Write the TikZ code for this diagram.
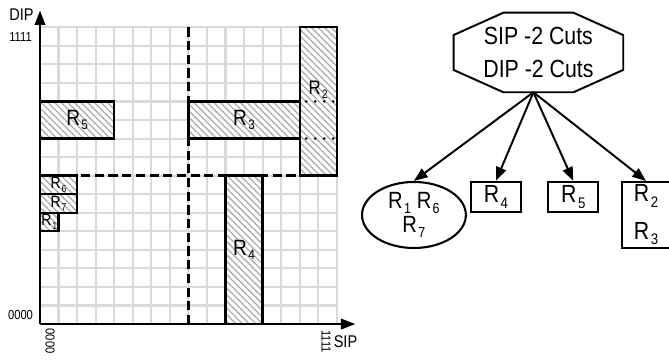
\documentclass[tikz,border=0pt]{standalone}
\usepackage{fontspec}
\setmainfont{Liberation Sans}[FakeStretch=0.86]
\usetikzlibrary{arrows.meta, shapes.geometric, positioning, calc, patterns.meta}
\definecolor{gridgray}{RGB}{218,218,218}
\definecolor{hatchgray}{RGB}{172,172,172}
\newcommand{\fsz}[1]{\fontsize{#1}{#1}\selectfont}
\newcommand{\rsub}[1]{R\kern0.06em\raisebox{-0.4ex}{\scalebox{0.62}{#1}}}
\tikzset{
  regbox/.style={line width=1.8pt, preaction={fill=white},
    pattern={Lines[angle=-45,distance=3.6pt,line width=1pt]}, pattern color=hatchgray},
  cutline/.style={line width=1.8pt, dash pattern=on 7pt off 3.5pt},
  dotrow/.style={line width=2.2pt, line cap=round, dash pattern=on 0pt off 6.9pt},
  axisline/.style={line width=1.6pt, -{Triangle[length=11pt,width=8pt]}},
  leafbox/.style={draw, line width=1.7pt, inner sep=0pt, minimum width=1.35cm, minimum height=0.81cm,
    font=\fsz{19}},
  fan/.style={line width=1.5pt, -{Triangle[length=10.5pt,width=8pt]}}
}

\begin{document}
\begin{tikzpicture}[x=0.5cm,y=0.5cm]
  \useasboundingbox (-2.156,-1.94) rectangle (33.91,17.47);
  % grid and cuts
  \draw[gridgray, line width=1.6pt, step=0.5cm] (0,0) grid (16,16);
  \draw[cutline] (8,0) -- (8,16);
  \draw[cutline] (0,8) -- (16,8);
  % rules
  \draw[regbox] (0,10) rectangle (4,12);
  \draw[regbox] (8,10) rectangle (14,12);
  \draw[regbox] (14,8) rectangle (16,16);
  \draw[regbox] (10,0) rectangle (12,8);
  \draw[regbox] (0,7) rectangle (2,8);
  \draw[regbox] (0,6) rectangle (2,7);
  \draw[regbox] (0,5) rectangle (1,6);
  \draw[dotrow] (14.35,12) -- (15.9,12);
  \draw[dotrow] (14.35,10) -- (15.9,10);
  \node[font=\fsz{17}] (g5) at (2,11) {\rsub{5}};
  \node[font=\fsz{17}] (g3) at (11,11) {\rsub{3}};
  \node[font=\fsz{17}] (g4) at (11,4) {\rsub{4}};
  \node[font=\fsz{15}, inner sep=1pt, above] (g2) at (15,12.05) {\rsub{2}};
  \node[font=\fsz{12.5}, inner sep=0pt] (g6) at (1,7.5) {\rsub{6}};
  \node[font=\fsz{12.5}, inner sep=0pt] (g7) at (1,6.5) {\rsub{7}};
  \node[font=\fsz{12.5}, inner sep=0pt] (g1) at (0.5,5.5) {\rsub{1}};
  % axes
  \draw[axisline] (0,0) -- (0,16.9);
  \draw[axisline] (0,0) -- (17,0);
  \node[font=\fsz{13}] (dip) at (-1,16.68) {DIP};
  \node[font=\fsz{13}] (sip) at (16.47,-0.97) {SIP};
  \node[font=\fsz{10}] (dhi) at (-1.05,15.5) {1111};
  \node[font=\fsz{10}] (dlo) at (-1.05,0.5) {0000};
  \node[font=\fsz{10}, rotate=-90] (slo) at (0.54,-0.92) {0000};
  \node[font=\fsz{10}, rotate=-90] (shi) at (15.42,-0.94) {1111};

  % decision tree
  \node[inner sep=0pt, minimum width=4.56cm, minimum height=2.13cm, align=center,
    font=\fontsize{19}{26}\selectfont] (root) at (26.87,14.64) {SIP -2 Cuts\\DIP -2 Cuts};
  \draw[line width=1.5pt] ($(root.north)+(-1.89,0)$) -- ($(root.north)+(1.89,0)$)
    -- ($(root.east)+(0,0.94)$) -- ($(root.east)+(0,-0.94)$)
    -- ($(root.south)+(1.89,0)$) -- ($(root.south)+(-1.89,0)$)
    -- ($(root.west)+(0,-0.94)$) -- ($(root.west)+(0,0.94)$) -- cycle;
  \coordinate (fork) at ($(root.south)+(-0.27,0)$);
  \node[draw, ellipse, line width=1.6pt, inner sep=0pt, minimum width=2.8cm, minimum height=1.78cm,
    align=center, font=\fontsize{18}{19}\selectfont] (n17) at (20.16,5.88) {\rsub{1} \rsub{6}\\\rsub{7}};
  \node[leafbox] (n4) at (24.58,6.85) {\rsub{4}};
  \node[leafbox, right=0.674cm of n4] (n5) {\rsub{5}};
  \node[leafbox, minimum width=1.3cm, minimum height=1.775cm, align=center,
    font=\fontsize{19}{29}\selectfont] (n23) at (32.67,5.88) {\rsub{2}\\\rsub{3}};
  \draw[fan] (fork) -- (n17.north);
  \draw[fan] (fork) -- (n4.north);
  \draw[fan] (fork) -- (n5.north);
  \draw[fan] (fork) -- (n23.north);
\end{tikzpicture}
\end{document}
